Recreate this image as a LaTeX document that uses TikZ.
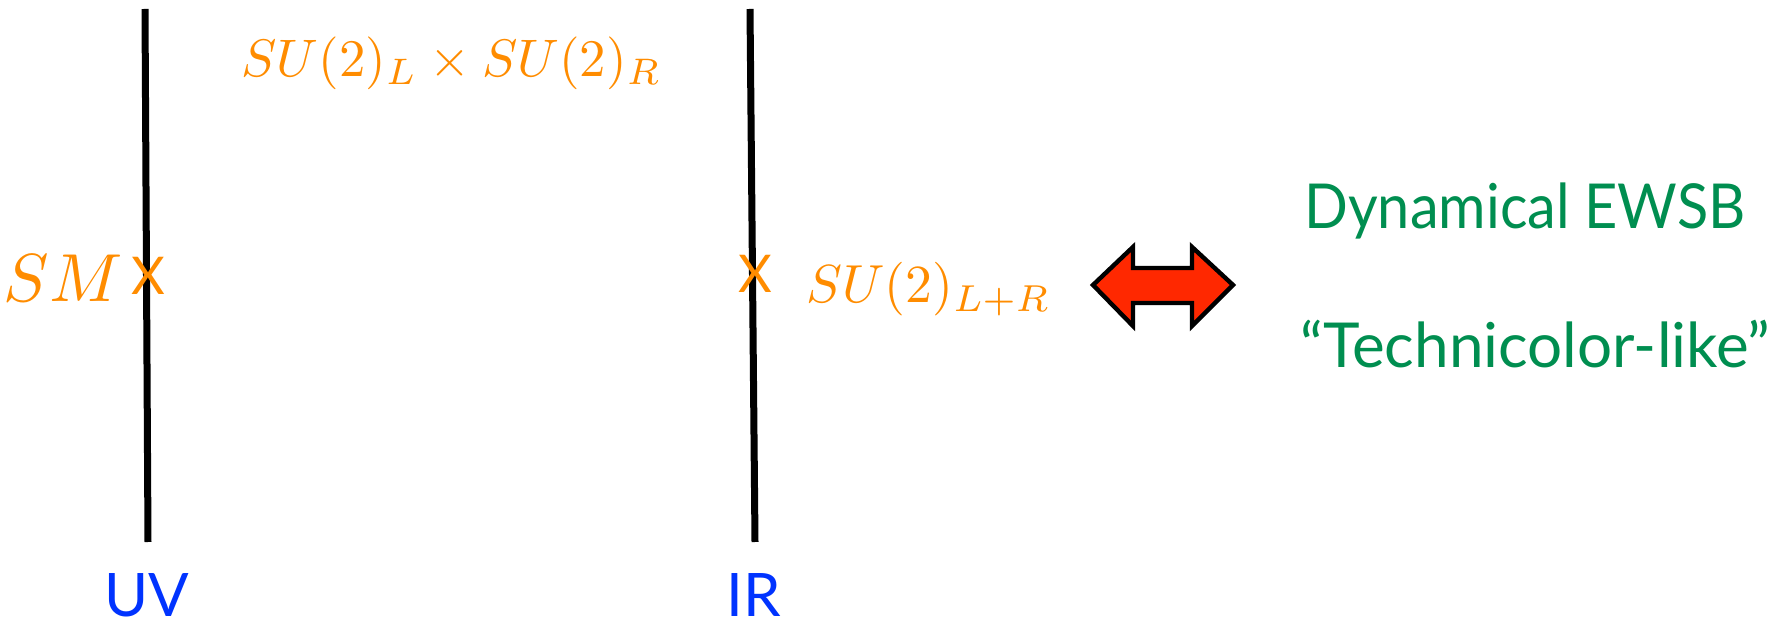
\documentclass[tikz,border=0pt]{standalone}
\usepackage{graphicx}
\usepackage{fontspec}
\newfontfamily\gillfont{Lato}
\usetikzlibrary{calc}

\definecolor{suorange}{RGB}{255,140,0}
\definecolor{ewsbgreen}{RGB}{0,142,80}
\definecolor{scaleblue}{RGB}{0,51,255}
\definecolor{arrowred}{RGB}{255,40,0}

\begin{document}
\begin{tikzpicture}[x=0.5pt, y=-0.5pt,
    brane/.style={line width=3.5pt, black},
    group/.style={text=suorange, inner sep=0pt},
    xmark/.style={text=suorange, inner sep=0pt, font=\gillfont\fontsize{26}{26}\selectfont},
    scalelabel/.style={text=scaleblue, inner sep=0pt, font=\gillfont\fontsize{30}{30}\selectfont},
    ewsb/.style={text=ewsbgreen, inner sep=0pt, anchor=base west, font=\gillfont\fontsize{31}{31}\selectfont}]

    \useasboundingbox (0,0) rectangle (1772,624);

    % Branes
    \coordinate (uvtop) at (145,9);
    \coordinate (uvbot) at (148,542);
    \coordinate (irtop) at (750,9);
    \coordinate (irbot) at (755,542);
    \draw[brane] (uvtop) -- (uvbot);
    \draw[brane] (irtop) -- (irbot);

    % Breaking points
    \node[xmark] (uvx) at (148,276) {X};
    \node[xmark] (irx) at (755,274) {X};

    % Symmetries
    \node[group, anchor=base east] (sm) at (123,302) {\scalebox{3.4}{$SM$}};
    \node[group, anchor=base west] (lxr) at (241,77) {\scalebox{2.64}{$SU(2)_L\times SU(2)_R$}};
    \node[group, anchor=base west] (lpr) at (806,303) {\scalebox{2.68}{$SU(2)_{L+R}$}};

    % Duality
    \filldraw[fill=arrowred, draw=black, line width=2.2pt, miter limit=4]
        (1093,285) -- (1133,247) -- (1133,268) -- (1192,268) -- (1192,247) -- (1233,285)
        -- (1192,326) -- (1192,303) -- (1133,303) -- (1133,326) -- cycle;

    % Scales
    \node[scalelabel] (uv) at (147,595) {UV};
    \node[scalelabel] (ir) at (754,595) {IR};

    % Interpretation
    \node[ewsb] (dyn) at (1304,229) {\scalebox{0.93}[1]{Dynamical EWSB}};
    \node[ewsb] (tc) at (1300,368) {“Technicolor-like”};
\end{tikzpicture}
\end{document}
